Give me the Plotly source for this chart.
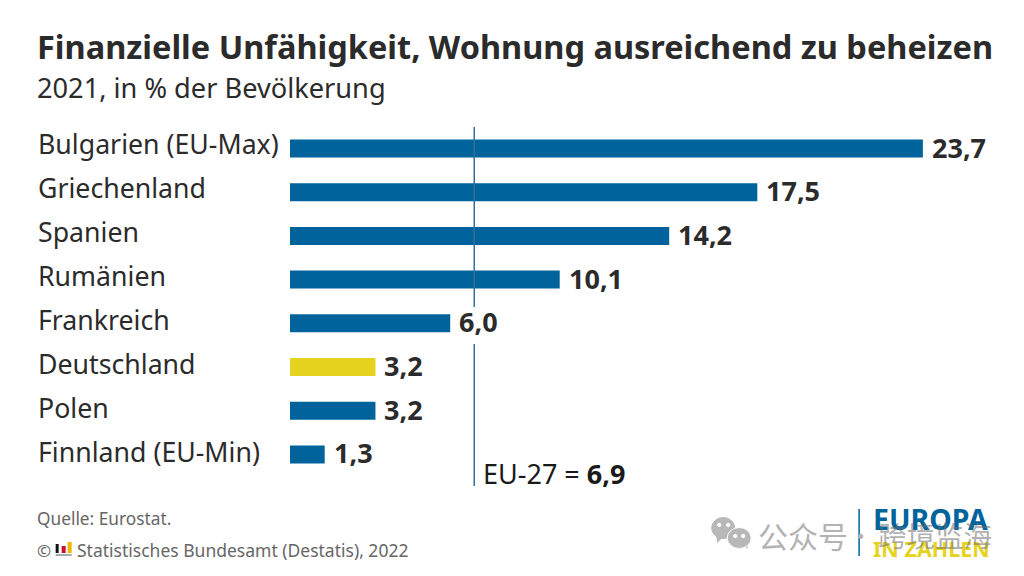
import plotly.graph_objects as go

countries = ["Bulgarien (EU-Max)", "Griechenland", "Spanien", "Rumänien", "Frankreich",
             "Deutschland", "Polen", "Finnland (EU-Min)"]
values = [23.7, 17.5, 14.2, 10.1, 6.0, 3.2, 3.2, 1.3]
eu_avg = 6.9

BLUE = "#00639b"
YELLOW = "#e6d320"
DARK = "#2b2b2b"
GREY = "#666666"
LINE = "#2f7197"
MARK = "#b8b8b8"
W, H = 1024, 576
ML, MR, MT, MB = 289.5, 13, 126, 90
ROW = 43.7
FONT = "Noto Sans"
BOLD = "Noto Sans"
CJK = "Noto Sans CJK SC"


# window pixels to paper coordinates (paper is the plot area, not the window)
def px(x):
    return (x - ML) / (W - ML - MR)


def py(y):
    return (H - MB - y) / (H - MT - MB)


colors = [YELLOW if c == "Deutschland" else BLUE for c in countries]

fig = go.Figure(go.Bar(x=values, y=countries, orientation="h", marker_color=colors,
                       marker_line_width=0, width=18 / ROW))


def text(x, y, s, size, color=DARK, anchor="left", bold=False, family=FONT):
    fig.add_annotation(xref="paper", yref="paper", x=px(x - 2), y=py(y), text=f"<b>{s}</b>" if bold else s,
                       showarrow=False, xanchor=anchor, yanchor="middle",
                       font=dict(family=family, size=size, color=color))


fig.update_layout(
    width=W, height=H, autosize=False, showlegend=False,
    paper_bgcolor="white", plot_bgcolor="white",
    margin=dict(l=ML, r=MR, t=MT, b=MB),
    xaxis=dict(range=[0, 27], visible=False),
    yaxis=dict(categoryorder="array", categoryarray=countries,
               range=[-0.515 + 360 / ROW, -0.515], visible=False),
)

for i, (c, v) in enumerate(zip(countries, values)):
    # labels run on a slightly wider row step than the bars
    fig.add_annotation(x=0, y=c, text=c, showarrow=False, xanchor="left", xref="x", yref="y",
                       xshift=35 - ML, yshift=5.5 - i * 0.3,
                       font=dict(family=FONT, size=26.7, color=DARK))
    fig.add_annotation(x=v, y=c, text="<b>" + f"{v:.1f}".replace(".", ",") + "</b>", showarrow=False,
                       xanchor="left", xref="x", yref="y", xshift=7, yshift=1.5,
                       font=dict(family=BOLD, size=27, color=DARK))

# EU average line, broken around the 6,0 label
for top, bottom in [(127, 307), (344, 486)]:
    fig.add_shape(type="line", xref="x", yref="paper", x0=eu_avg, x1=eu_avg, y0=py(bottom), y1=py(top),
                  line=dict(color=LINE, width=1.5), layer="above")
fig.add_annotation(x=eu_avg, y=py(473), xref="x", yref="paper", xanchor="left", yanchor="middle",
                   xshift=7, showarrow=False,
                   text=f"EU-27 = <b>{eu_avg:.1f}</b>".replace(".", ","),
                   font=dict(family=FONT, size=27, color="#1a1a1a"))

text(36, 47, "Finanzielle Unfähigkeit, Wohnung ausreichend zu beheizen", 32.5, bold=True)
text(36, 88, "2021, in % der Bevölkerung", 27.2)
text(36, 518, "Quelle: Eurostat.", 17.3, GREY)
text(36, 550, "©", 17, GREY)
text(76, 550, "Statistisches Bundesamt (Destatis), 2022", 17.5, GREY)

# small destatis mark next to the copyright sign
for x0, x1, y0, y1, col in [(55, 58, 544, 553, "#111111"), (61, 65, 546, 553, "#c8102e"),
                            (67, 71, 542, 553, "#f2b600"), (55, 71, 554, 556, "#aaaaaa")]:
    fig.add_shape(type="rect", xref="paper", yref="paper", x0=px(x0), x1=px(x1), y0=py(y1), y1=py(y0),
                  fillcolor=col, line_width=0, layer="above")

# logo
fig.add_shape(type="line", xref="paper", yref="paper", x0=px(859), x1=px(859), y0=py(556), y1=py(509),
              line=dict(color=BLUE, width=1.5))
text(873, 519, "EUROPA", 28.5, BLUE, bold=True)
text(873, 548, "IN ZAHLEN", 21.5, YELLOW, bold=True)


# watermark: two chat bubbles with tails and eyes
def blob(cx, cy, rx, ry, fill, edge="white"):
    fig.add_shape(type="circle", xref="paper", yref="paper", x0=px(cx - rx), x1=px(cx + rx),
                  y0=py(cy + ry), y1=py(cy - ry), fillcolor=fill, line=dict(color=edge, width=1), layer="above")


def tail(points):
    path = "M " + " L ".join(f"{px(x):.4f} {py(y):.4f}" for x, y in points) + " Z"
    fig.add_shape(type="path", xref="paper", yref="paper", path=path, fillcolor=MARK, line_width=0, layer="above")


tail([(716, 535), (722, 538), (717, 543)])
blob(723, 528, 11.5, 10.5, MARK, MARK)
tail([(743, 543), (748, 544), (747, 549)])
blob(739, 538, 12, 10.5, MARK)
for cx, cy in [(719, 525), (728, 525), (735, 536), (743, 536)]:
    blob(cx, cy, 1.7, 1.7, "white")

text(758, 535, "公众号", 30, "#b3b3b3", family=CJK)
text(862, 535, "·", 25, "#b3b3b3", anchor="center", family=CJK)
text(878, 534, "跨境监海", 28.5, "rgba(110,110,110,0.55)", family=CJK)

# the browser's default body margin would push the figure 8px off the window
fig.write_html("out.html", config=dict(displayModeBar=False),
               post_script="document.body.style.margin='0';")
